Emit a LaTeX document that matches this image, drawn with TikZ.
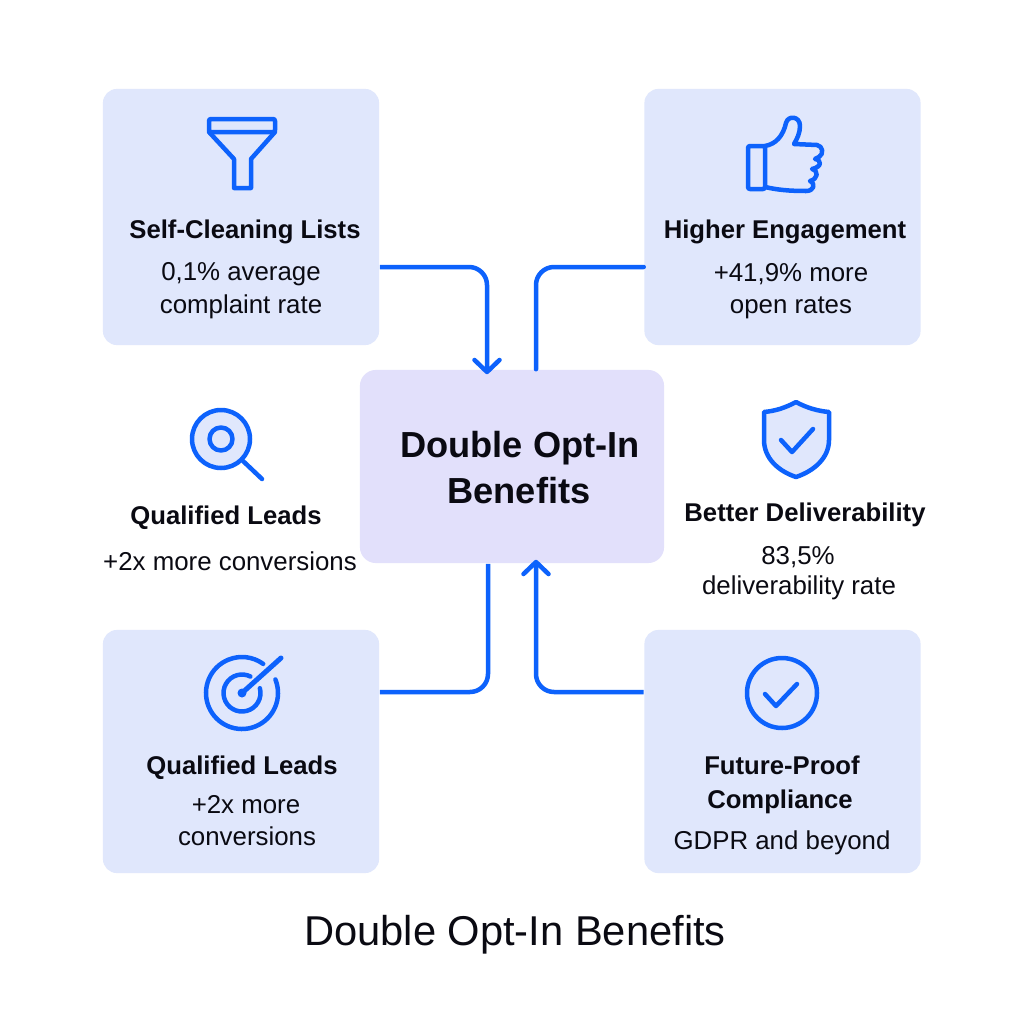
\documentclass[tikz,border=0pt]{standalone}
\usepackage{fontspec}
\setmainfont{Liberation Sans}
\usepackage{xcolor}
\definecolor{cardblue}{RGB}{224,231,252}
\definecolor{hubviolet}{RGB}{226,224,251}
\definecolor{iconblue}{RGB}{13,98,252}
\definecolor{ink}{RGB}{10,10,18}
\usetikzlibrary{arrows.meta,calc}
\tikzset{
  card/.style={fill=cardblue,rounded corners=0.14cm,minimum width=2.76cm,inner sep=0pt},
  head/.style={anchor=base,text=ink,font=\fontsize{7.3pt}{9pt}\selectfont\bfseries,inner sep=0pt},
  sub/.style={anchor=base,text=ink,font=\fontsize{7.35pt}{9pt}\selectfont,inner sep=0pt},
  conn/.style={draw=iconblue,line width=0.045cm,rounded corners=0.18cm},
  tip/.style={-{Straight Barb[length=0.12cm,width=0.25cm,round]}},
  icon/.style={draw=iconblue,line width=0.045cm,line join=round,line cap=round}
}

\begin{document}
\begin{tikzpicture}[x=0.01cm,y=-0.01cm]
  \useasboundingbox (0,0) rectangle (1024,1024);
  \fill[white] (0,0) rectangle (1024,1024);

  % Cards
  \node[card,minimum height=2.56cm] (selfclean) at (241,217) {};
  \node[card,minimum height=2.56cm] (engage) at (782.5,217) {};
  \node[card,minimum height=2.43cm] (leads) at (241,751.5) {};
  \node[card,minimum height=2.43cm] (comply) at (782.5,751.5) {};
  \node[fill=hubviolet,rounded corners=0.16cm,minimum width=3.04cm,minimum height=1.93cm,inner sep=0pt] (hub) at (512,466.5) {};

  % Connectors
  \draw[conn,tip] ($(selfclean.east)+(0,50)$) -| ($(hub.north)+(-25,5)$);
  \draw[conn,line cap=round] ($(engage.west)+(0,50)$) -| ($(hub.north)+(24,0)$);
  \draw[conn] ($(leads.east)+(0,-59.5)$) -| ($(hub.south)+(-24,0)$);
  \draw[conn,tip] ($(comply.west)+(0,-59.5)$) -| ($(hub.south)+(24,-4)$);

  % Funnel
  \draw[icon,rounded corners=0.02cm] (209,119) rectangle (275,132);
  \draw[icon] (209,132) -- (234,159) -- (234,188) -- (251,188) -- (251,159) -- (275,132);

  % Thumb
  \draw[icon,rounded corners=0.02cm] (748,146) rectangle (765,189);
  \draw[icon] (765,146) .. controls (776,144) and (783,136) .. (786,123)
    .. controls (788,115) and (800,116) .. (800,126)
    .. controls (800,133) and (797,139) .. (794,144) -- (817,145)
    .. controls (823,146) and (824,154) .. (819,157) -- (815,159)
    .. controls (822,160) and (822,167) .. (812,169)
    .. controls (819,171) and (818,179) .. (810,181)
    .. controls (816,184) and (814,191) .. (806,191)
    .. controls (790,191) and (778,190) .. (765,187);

  % Magnifier
  \draw[icon,fill=cardblue] (221,439) circle (29);
  \draw[icon] (221,439) circle (11.5);
  \draw[icon] (243,461) -- (262,479);

  % Shield
  \draw[icon,fill=cardblue] (796,402) .. controls (785,408) and (775,411) .. (764,412) -- (764,440)
    .. controls (764,458) and (778,471) .. (796,477)
    .. controls (814,471) and (829,458) .. (829,440) -- (829,412)
    .. controls (818,411) and (807,408) .. (796,402) -- cycle;
  \draw[icon] (781,440) -- (792,452) -- (813,429);

  % Target
  \draw[icon] (242,693) ++(-22:36) arc[start angle=-22,end angle=306,radius=36];
  \draw[icon] (242,693) ++(-15:18.5) arc[start angle=-15,end angle=297,radius=18.5];
  \draw[icon,line width=0.05cm] (242,693) -- (281,658);
  \fill[iconblue] (242,693) circle (4.5);

  % Check
  \draw[icon] (782,693) circle (35);
  \draw[icon] (765,694) -- (776,706) -- (797,684);

  % Labels
  \node[head] (cleanhead) at (245,238) {Self-Cleaning Lists};
  \node[sub] (cleansub) at (241,280) {0,1\% average};
  \node[sub] (cleanrate) at (241,313) {complaint rate};
  \node[head] (engagehead) at (785,238) {Higher Engagement};
  \node[sub] (engagesub) at (791,281) {+41,9\% more};
  \node[sub] (engagerate) at (791,313) {open rates};
  \node[head] (midhead) at (226,524) {Qualified Leads};
  \node[sub] (midsub) at (230,570) {+2x more conversions};
  \node[head] (deliverhead) at (805,521) {Better Deliverability};
  \node[sub] (deliversub) at (798,564) {83,5\%};
  \node[sub] (deliverrate) at (799,594) {deliverability rate};
  \node[head] (leadshead) at (242,774) {Qualified Leads};
  \node[sub] (leadssub) at (246,813) {+2x more};
  \node[sub] (leadsconv) at (247,845) {conversions};
  \node[head] (complyhead) at (782,774) {Future-Proof};
  \node[head] (complyname) at (780,808) {Compliance};
  \node[sub] (complysub) at (782,849) {GDPR and beyond};
  \node[head,font=\fontsize{10.3pt}{12pt}\selectfont\bfseries] (hubtop) at (520,457) {Double Opt-In};
  \node[head,font=\fontsize{10.3pt}{12pt}\selectfont\bfseries] (hubbottom) at (519,503) {Benefits};
  \node[sub,font=\fontsize{11.85pt}{13pt}\selectfont] (title) at (515,945) {Double Opt-In Benefits};
\end{tikzpicture}
\end{document}
